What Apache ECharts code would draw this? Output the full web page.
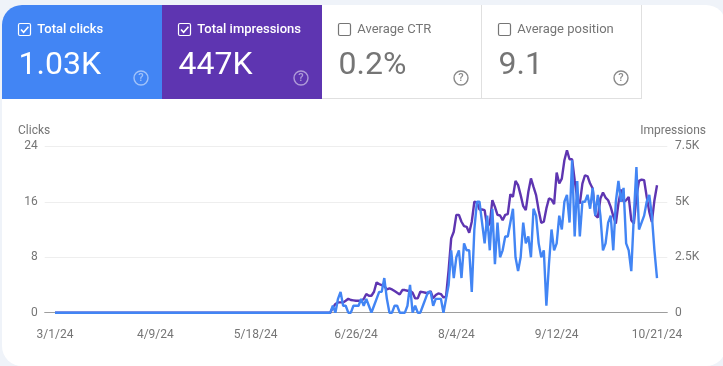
<!DOCTYPE html>
<html><head><meta charset="utf-8">
<style>html,body{margin:0;padding:0;background:#eff3f9}#c{width:723px;height:366px}</style>
<script src="https://cdn.jsdelivr.net/npm/echarts@6/dist/echarts.min.js"></script>
</head><body><div id="c"></div>
<script>
const tickLabels=['3/1/24','4/9/24','5/18/24','6/26/24','8/4/24','9/12/24','10/21/24'];
const clicks=[
0,0,0,0,0,0,0,0,0,0, 0,0,0,0,0,0,0,0,0,0, 0,0,0,0,0,0,0,0,0,0, 0,0,0,0,0,0,0,0,0,0,
0,0,0,0,0,0,0,0,0,0, 0,0,0,0,0,0,0,0,0,0, 0,0,0,0,0,0,0,0,0,0, 0,0,0,0,0,0,0,0,0,0,
0,0,0,0,0,0,0,0,0,0, 0,0,0,0,0,0,0,0,0,0, 0,0,0,0,0,0,0,
0,1,0,2,3,1,1,0,0,1,
1,1,2,1,2,1,0,1,2,3,
3,5,2,0,0,1,1,0,0,0,
1,4,0,1,0,0,1,2,3,3,
1,2,2,2,0,2,4,9,5,8,
9,5,10,9,9,3,12,16,16,13,
10,14,9,15,7,13,8,9,11,11,
13,15,8,6,8,13,10,11,8,15,
14,10,8,9,1,7,12,9,10,14,
12,16,17,13,22,11,19,11,16,16,
17,15,18,14,17,14,9,10,13,14,
9,16,19,16,18,10,9,6,14,21,
12,13,14,16,17,14,9,5];
const impressions=[
0,0,0,0,0,0,0,0,0,0, 0,0,0,0,0,0,0,0,0,0, 0,0,0,0,0,0,0,0,0,0, 0,0,0,0,0,0,0,0,0,0,
0,0,0,0,0,0,0,0,0,0, 0,0,0,0,0,0,0,0,0,0, 0,0,0,0,0,0,0,0,0,0, 0,0,0,0,0,0,0,0,0,0,
0,0,0,0,0,0,0,0,0,0, 0,0,0,0,0,0,0,0,0,0, 0,0,0,0,0,0,0,
0,240,390,465,465,465,540,630,570,555,
540,540,540,615,840,765,765,945,1365,1290,
1245,1200,1050,1095,1050,975,900,825,1020,1020,
990,990,900,645,645,945,930,900,870,975,
645,795,870,840,690,720,1920,3350,3650,4410,
4410,4100,3900,3870,3600,4100,5000,4970,4650,4650,
4620,3870,4020,5070,4770,4410,4380,4170,4410,4440,
5340,5220,5940,5750,5300,4800,4620,5450,6050,5670,
5300,4620,4050,4100,4700,5150,5100,4890,6320,5820,
6045,6870,7320,6915,6915,5970,5145,4920,5820,6195,
6150,5820,5595,4395,4290,5145,5415,5190,5070,4770,
4350,4020,4920,5550,4995,5070,5220,4170,4020,5220,
5940,6000,5970,5220,4545,4095,5070,5745];
const leftTicks={0:'0',8:'8',16:'16',24:'24'};
const rightTicks={0:'0',2500:'2.5K',5000:'5K',7500:'7.5K'};
const tiles=[
 {title:'Total clicks',value:'1.03K',on:true,bg:'#4285f4'},
 {title:'Total impressions',value:'447K',on:true,bg:'#5e35b1'},
 {title:'Average CTR',value:'0.2%',on:false,bg:'#ffffff'},
 {title:'Average position',value:'9.1',on:false,bg:'#ffffff'}];

const pad=['','','',''];
const dates=[];
for(let i=0;i<clicks.length;i++){const d=new Date(Date.UTC(2024,2,1+i));dates.push((d.getUTCMonth()+1)+'/'+d.getUTCDate()+'/24');}
const cats=pad.concat(dates,pad);
const nulls=[null,null,null,null];
const FONT='Roboto';
const g=[];
g.push({type:'rect',z:-10,shape:{x:2,y:5,width:724,height:361,r:[20,20,20,20]},style:{fill:'#fff'}});
tiles.forEach((t,i)=>{
 const x=2+i*160,w=160,fg=t.on?'#fff':'#757575';
 const r=i===0?[20,0,0,0]:0;
 g.push({type:'rect',z:-5,shape:{x:x,y:5,width:w,height:94,r:r},style:{fill:t.bg}});
 if(!t.on){
  g.push({type:'line',z:-4,shape:{x1:x,y1:98.5,x2:x+w,y2:98.5},style:{stroke:'#e0e0e0',lineWidth:1}});
  g.push({type:'line',z:-4,shape:{x1:x+w-.5,y1:5,x2:x+w-.5,y2:99},style:{stroke:'#e0e0e0',lineWidth:1}});
 }
 g.push({type:'rect',z:1,shape:{x:x+16.5,y:23.5,width:12,height:12,r:1.5},style:{fill:'none',stroke:t.on?'#fff':'#757575',lineWidth:1.2}});
 if(t.on) g.push({type:'polyline',z:1,shape:{points:[[x+19,29.5],[x+21.6,32.2],[x+26.4,26.8]]},style:{fill:'none',stroke:'#fff',lineWidth:1.6}});
 g.push({type:'text',z:1,x:x+35.3,y:30,style:{text:t.title,fill:fg,font:(t.on?'500 ':'400 ')+'13px '+FONT,textVerticalAlign:'middle'}});
 g.push({type:'text',z:1,x:x+16.5,y:66,style:{text:t.value,fill:fg,font:'400 32px '+FONT,textVerticalAlign:'middle'}});
 const hc=t.on?'rgba(255,255,255,0.5)':'#8a8a8a';
 g.push({type:'circle',z:1,shape:{cx:x+139,cy:78,r:7},style:{fill:'none',stroke:hc,lineWidth:1.4}});
 g.push({type:'text',z:1,x:x+139,y:78.5,style:{text:'?',fill:hc,font:'500 11px '+FONT,textAlign:'center',textVerticalAlign:'middle'}});
});
g.push({type:'text',x:18,y:131,style:{text:'Clicks',fill:'#757575',font:'12px '+FONT,textVerticalAlign:'middle'}});
g.push({type:'text',x:706,y:131,style:{text:'Impressions',fill:'#757575',font:'12px '+FONT,textAlign:'right',textVerticalAlign:'middle'}});

const chart=echarts.init(document.getElementById('c'),null,{renderer:'canvas'});
chart.setOption({
 animation:false,backgroundColor:'#eff3f9',
 graphic:{elements:g},
 grid:{left:44.7,right:55.7,top:146.3,bottom:53.3,containLabel:false},
 xAxis:{type:'category',boundaryGap:false,data:cats,
  axisLine:{show:true,lineStyle:{color:'#9e9e9e',width:1}},axisTick:{show:false},splitLine:{show:false},
  axisLabel:{color:'#757575',fontFamily:FONT,fontSize:12,margin:16,hideOverlap:false,
   interval:(i,v)=>tickLabels.includes(v)}},
 yAxis:[
  {type:'value',min:0,max:24,interval:8,
   axisLine:{show:false},axisTick:{show:false},
   splitLine:{lineStyle:{color:'#eeeeee',width:1}},
   axisLabel:{color:'#757575',fontFamily:FONT,fontSize:12,margin:7,padding:[3,0,0,0],formatter:v=>leftTicks[v]}},
  {type:'value',min:0,max:7500,interval:2500,
   axisLine:{show:false},axisTick:{show:false},splitLine:{show:false},
   axisLabel:{color:'#757575',fontFamily:FONT,fontSize:12,margin:7.7,padding:[3,0,0,0],formatter:v=>rightTicks[v]}}],
 series:[
  {name:'Impressions',type:'line',yAxisIndex:1,showSymbol:false,symbol:'none',z:2,clip:false,
   data:nulls.concat(impressions,nulls),lineStyle:{color:'#5e35b1',width:2.4}},
  {name:'Clicks',type:'line',yAxisIndex:0,showSymbol:false,symbol:'none',z:3,clip:false,
   data:nulls.concat(clicks,nulls),lineStyle:{color:'#4285f4',width:2.4}}]
});
</script></body></html>
